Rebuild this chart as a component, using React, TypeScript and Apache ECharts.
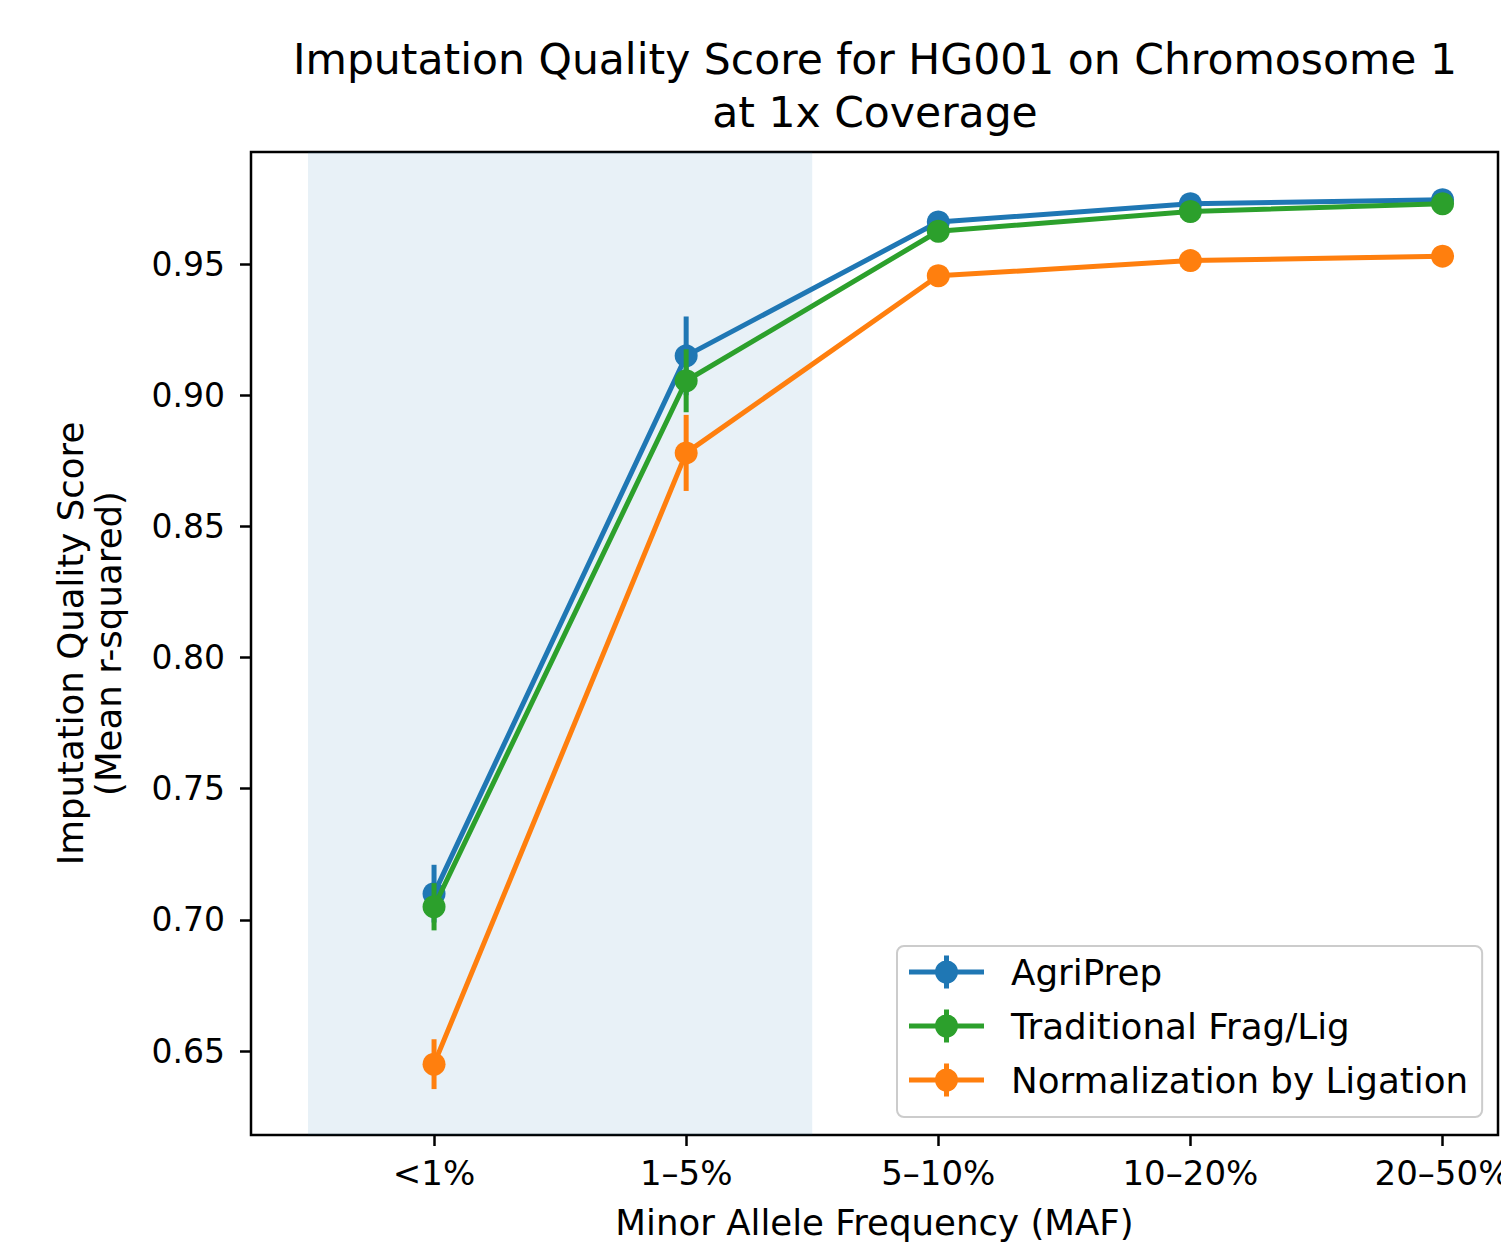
import React, { useEffect, useRef } from "react";
import * as echarts from "echarts";

const categories = ["<1%", "1–5%", "5–10%", "10–20%", "20–50%"];
const seriesNames = ["AgriPrep", "Traditional Frag/Lig", "Normalization by Ligation"];
const agriPrep = [0.71, 0.915, 0.966, 0.973, 0.9745];
const agriPrepErr = [0.011, 0.015, 0.002, 0.0015, 0.0015];
const tradFragLig = [0.705, 0.9055, 0.9625, 0.97, 0.973];
const tradFragLigErr = [0.009, 0.012, 0.002, 0.0015, 0.0015];
const normLig = [0.645, 0.878, 0.9455, 0.9513, 0.953];
const normLigErr = [0.0095, 0.0145, 0.002, 0.0015, 0.0015];
const yTicks = [0.65, 0.7, 0.75, 0.8, 0.85, 0.9, 0.95];
const xTicks = [0, 1, 2, 3, 4];
const shadedRange = [-0.5, 1.5];

const colors = ["#1f77b4", "#2ca02c", "#ff7f0e"];
const FONT = "DejaVu Sans";

const legendIcon =
  "path://M0 14 H75 V19 H0 Z M35 0 H40 V33 H35 Z M26 16.5 A11.5 11.5 0 1 1 49 16.5 A11.5 11.5 0 1 1 26 16.5 Z";

export default function App() {
  const ref = useRef<HTMLDivElement>(null);
  useEffect(() => {
    if (!ref.current) return;
    const chart = echarts.init(ref.current, null, { renderer: "svg" });
    const values = [agriPrep, tradFragLig, normLig];
    const errs = [agriPrepErr, tradFragLigErr, normLigErr];
    const series: any[] = [
      {
        name: "shade",
        type: "line",
        data: [],
        z: 1,
        silent: true,
        markArea: {
          silent: true,
          itemStyle: { color: "rgba(31,119,180,0.1)" },
          data: [[{ xAxis: shadedRange[0] }, { xAxis: shadedRange[1] }]],
        },
      },
    ];
    values.forEach((vals, k) => {
      const color = colors[k];
      series.push({
        name: seriesNames[k] + " error",
        type: "custom",
        z: 3 + k * 2,
        silent: true,
        data: vals.map((v, i) => [i, v - errs[k][i], v + errs[k][i]]),
        renderItem: (params: any, api: any) => {
          const x = api.value(0);
          const p1 = api.coord([x, api.value(1)]);
          const p2 = api.coord([x, api.value(2)]);
          return {
            type: "line",
            shape: { x1: p1[0], y1: p1[1], x2: p2[0], y2: p2[1] },
            style: { stroke: color, lineWidth: 5 },
          };
        },
      });
      series.push({
        name: seriesNames[k],
        type: "line",
        z: 4 + k * 2,
        data: vals.map((v, i) => [i, v]),
        symbol: "circle",
        symbolSize: 23,
        lineStyle: { color, width: 5 },
        itemStyle: { color },
      });
    });

    chart.setOption({
      animation: false,
      backgroundColor: "#fff",
      title: {
        text: "Imputation Quality Score for HG001 on Chromosome 1\nat 1x Coverage",
        left: 870,
        top: 28,
        textAlign: "center",
        textStyle: {
          fontFamily: FONT,
          fontSize: 42.5,
          lineHeight: 53,
          fontWeight: "normal",
          color: "#000",
        },
      },
      grid: {
        left: 251,
        top: 152,
        width: 1247,
        height: 983,
        show: true,
        borderColor: "#000",
        borderWidth: 2.5,
        backgroundColor: "transparent",
        outerBoundsMode: "none",
        containLabel: false,
      },
      legend: {
        orient: "vertical",
        left: 897,
        top: 946,
        data: seriesNames.map((n) => ({ name: n, icon: legendIcon })),
        itemWidth: 75,
        itemHeight: 33,
        itemGap: 14,
        selectedMode: false,
        backgroundColor: "rgba(255,255,255,0.8)",
        borderColor: "#cccccc",
        borderWidth: 2,
        borderRadius: 7,
        padding: [6, 14, 17, 12],
        textStyle: {
          fontFamily: FONT,
          fontSize: 35.7,
          lineHeight: 40,
          color: "#000",
          padding: [0, 0, 0, 22],
        },
      },
      xAxis: {
        type: "value",
        min: -0.726,
        max: 4.22,
        name: "Minor Allele Frequency (MAF)",
        nameLocation: "middle",
        nameGap: 69,
        nameTextStyle: { fontFamily: FONT, fontSize: 35.6, color: "#000" },
        splitLine: { show: false },
        axisLine: { show: false, onZero: false },
        axisTick: {
          show: true,
          length: 11,
          customValues: xTicks,
          lineStyle: { color: "#000", width: 2.5 },
        },
        axisLabel: {
          customValues: xTicks,
          formatter: (v: number) => categories[Math.round(v)] ?? "",
          fontFamily: FONT,
          fontSize: 34,
          color: "#000",
          margin: 21,
        },
      },
      yAxis: {
        type: "value",
        min: 0.618,
        max: 0.9927,
        name: "Imputation Quality Score\n(Mean r-squared)",
        nameLocation: "middle",
        nameRotate: 90,
        nameGap: 124,
        nameTextStyle: { fontFamily: FONT, fontSize: 35.6, lineHeight: 38, color: "#000" },
        splitLine: { show: false },
        axisLine: { show: false, onZero: false },
        axisTick: {
          show: true,
          length: 11,
          customValues: yTicks,
          lineStyle: { color: "#000", width: 2.5 },
        },
        axisLabel: {
          customValues: yTicks,
          formatter: (v: number) => v.toFixed(2),
          fontFamily: FONT,
          fontSize: 33,
          color: "#000",
          margin: 26,
        },
      },
      series,
    });
    return () => chart.dispose();
  }, []);
  return (
    <div
      ref={ref}
      style={{ position: "absolute", left: 0, top: 0, width: 1501, height: 1244 }}
    />
  );
}
